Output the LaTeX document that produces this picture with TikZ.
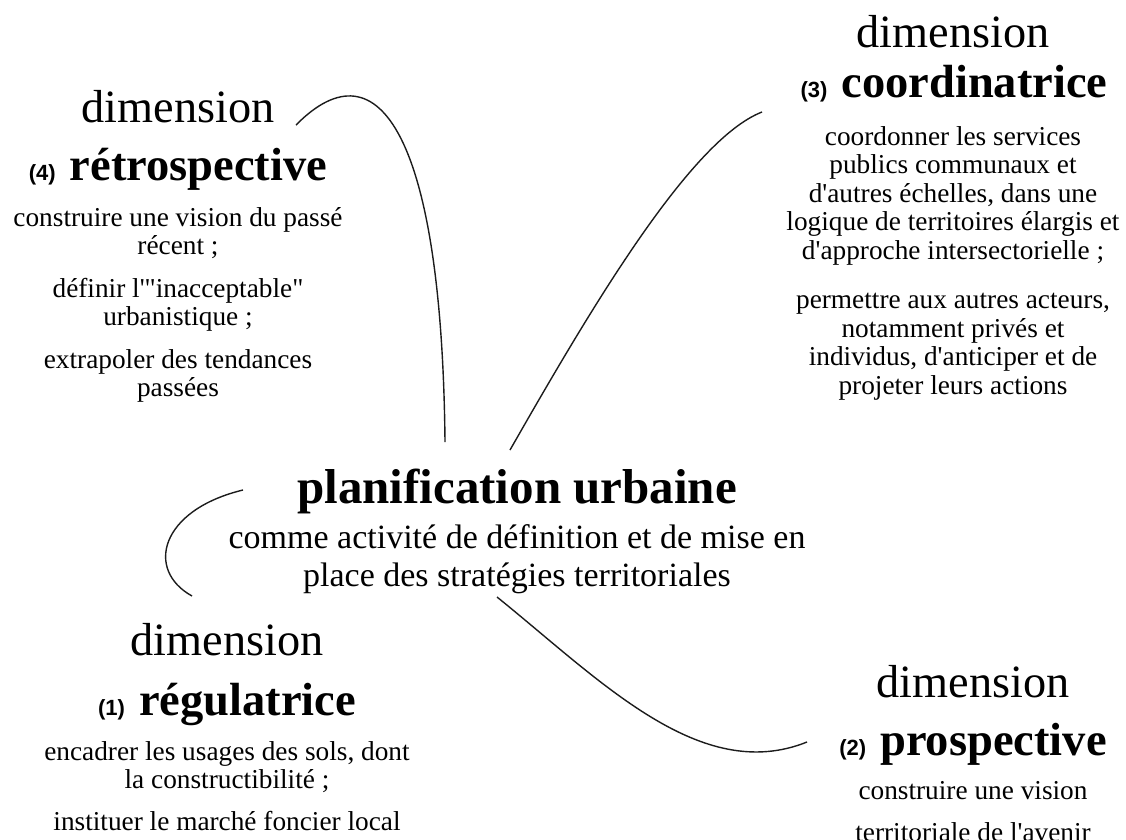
\documentclass[tikz,border=0pt]{standalone}
\usepackage{fontspec}
\setmainfont{Liberation Serif}[Ligatures=TeXOff]
\newfontfamily\numfamily{Liberation Sans}
\definecolor{plangray}{RGB}{28,28,28}
\newcommand{\dimnum}[1]{{\numfamily\fontsize{22}{24}\selectfont\bfseries(#1)}\hspace{14pt}}
\tikzset{
  plantitle/.style={
    font=\fontsize{49}{52}\selectfont\bfseries,
    anchor=base,
    inner sep=0pt
  },
  plansub/.style={
    font=\fontsize{34}{38}\selectfont,
    align=center,
    inner sep=0pt
  },
  dimlabel/.style={
    font=\fontsize{46.3}{50}\selectfont,
    anchor=base,
    inner sep=0pt
  },
  dimtitle/.style={
    font=\fontsize{46.5}{50}\selectfont\bfseries,
    anchor=base,
    inner sep=0pt
  },
  dimtext/.style={
    font=\fontsize{27.3}{28.5}\selectfont,
    align=center,
    inner sep=0pt
  },
  link/.style={line width=1.4pt,plangray}
}
\begin{document}
\begin{tikzpicture}[x=1pt,y=-1pt]
  \useasboundingbox (0,0) rectangle (1126,839);
  % centre
  \node[plantitle] (plan) at (517,503) {planification urbaine};
  \node[plansub] (plansub) at (517,559) {comme activité de définition et de mise en\\place des stratégies territoriales};
  % dimension (4)
  \node[dimlabel] (dim4) at (178,122) {dimension};
  \node[dimtitle] (titre4) at (178,180) {\dimnum{4}rétrospective};
  \node[dimtext] (texte4) at (178,305) {construire une vision du passé\\récent ;\\[14pt]définir l'"inacceptable"\\urbanistique ;\\[14pt]extrapoler des tendances\\passées};
  % dimension (3)
  \node[dimlabel] (dim3) at (953,47) {dimension};
  \node[dimtitle] (titre3) at (954,97) {\dimnum{3}coordinatrice};
  \node[dimtext] (texte3) at (953,263) {coordonner les services\\publics communaux et\\d'autres échelles, dans une\\logique de territoires élargis et\\d'approche intersectorielle ;\\[21pt]permettre aux autres acteurs,\\notamment privés et\\individus, d'anticiper et de\\projeter leurs actions};
  % dimension (1)
  \node[dimlabel] (dim1) at (227,655) {dimension};
  \node[dimtitle] (titre1) at (227,715) {\dimnum{1}régulatrice};
  \node[dimtext] (texte1) at (227,786) {encadrer les usages des sols, dont\\la constructibilité ;\\[13.5pt]instituer le marché foncier local};
  % dimension (2)
  \node[dimlabel] (dim2) at (973,697) {dimension};
  \node[dimtitle] (titre2) at (973,755) {\dimnum{2}prospective};
  \node[dimtext] (texte2) at (973,812) {construire une vision\\[13.5pt]territoriale de l'avenir};
  % liens
  \coordinate (l4a) at (445,442);
  \coordinate (l4b) at (296,125);
  \coordinate (l3a) at (510,450);
  \coordinate (l3b) at (762,112);
  \coordinate (l1a) at (243,490);
  \coordinate (l1b) at (192,596);
  \coordinate (l2a) at (497,597);
  \coordinate (l2b) at (807,742);
  \draw[link] (l4a) .. controls (442,140) and (380,40) .. (l4b);
  \draw[link] (l3a) .. controls (590,310) and (690,140) .. (l3b);
  \draw[link] (l1a) .. controls (160,510) and (145,570) .. (l1b);
  \draw[link] (l2a) .. controls (600,680) and (700,785) .. (l2b);
\end{tikzpicture}
\end{document}
